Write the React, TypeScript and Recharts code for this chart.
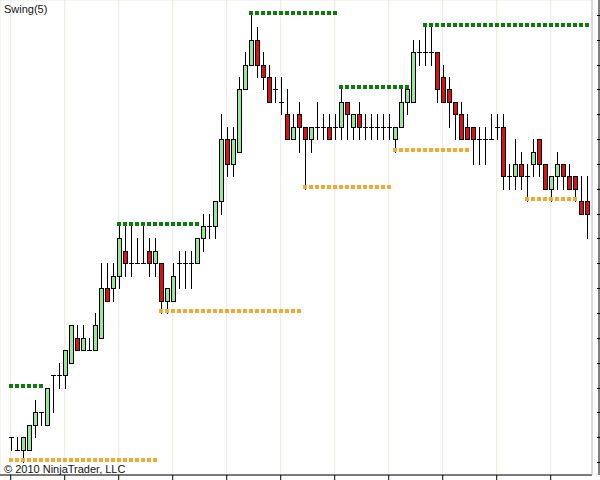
import React from 'react';
import { ComposedChart, Bar, Line, XAxis, YAxis, CartesianGrid } from 'recharts';

const n = null;

// OHLC prices (one bar per slot)
const opens = [
  1101, 1100.5, 1100.5, 1100.5, 1101.5, 1102, 1101.5, 1103.5, 1103.5, 1103.5,
  1104, 1105, 1104.5, 1104.5, 1104.5, 1105, 1107, 1107, 1107.5, 1108.5,
  1108, 1108, 1108, 1108.5, 1108, 1108, 1106.5, 1106.5, 1108, 1108,
  1108, 1108, 1109, 1109.5, 1109.5, 1110.5, 1113, 1112, 1112.5, 1115,
  1116, 1117, 1116, 1115.5, 1115, 1114.5, 1114, 1113, 1114, 1113.5,
  1113, 1113.5, 1113.5, 1113.5, 1113.5, 1113.5, 1114.5, 1113.5, 1114, 1113.5,
  1113.5, 1113.5, 1113.5, 1113.5, 1113, 1113.5, 1114.5, 1114.5, 1116.5, 1116.5,
  1116.5, 1116.5, 1115.5, 1115, 1114.5, 1114, 1113.5, 1113.5, 1113, 1113,
  1113, 1113.5, 1113.5, 1111.5, 1111.5, 1112, 1111.5, 1112, 1113, 1112,
  1111, 1111.5, 1112, 1111.5, 1111.5, 1110.5, 1110.5,
];
const highs = [
  1101, 1101, 1101, 1101.5, 1102.5, 1102, 1103, 1103.5, 1104, 1104.5,
  1105.5, 1105.5, 1105.5, 1105, 1106, 1108, 1108, 1108, 1109.5, 1109.5,
  1109.5, 1109, 1109.5, 1109, 1109, 1108, 1107, 1108, 1108.5, 1108.5,
  1108.5, 1109, 1110, 1110, 1110.5, 1114, 1113.5, 1113.5, 1115.5, 1116.5,
  1118, 1117.5, 1116.5, 1116, 1115.5, 1115.5, 1115, 1114, 1114.5, 1113.5,
  1113.5, 1114.5, 1114, 1114, 1114, 1115, 1114.5, 1114, 1114.5, 1114,
  1114, 1114, 1114, 1114, 1113.5, 1115, 1115, 1117, 1117, 1117.5,
  1117.5, 1116.5, 1116, 1115.5, 1114.5, 1114.5, 1114, 1113.5, 1113.5, 1113.5,
  1114, 1114, 1114, 1112, 1113, 1112.5, 1112, 1113, 1113, 1112,
  1111.5, 1112.5, 1112, 1112, 1111.5, 1111.5, 1111.5,
];
const lows = [
  1100.5, 1100.5, 1100, 1100.5, 1101, 1101.5, 1101.5, 1102, 1103, 1103,
  1104, 1104.5, 1104.5, 1104.5, 1104.5, 1105, 1106.5, 1106.5, 1107, 1107.5,
  1107.5, 1108, 1108, 1107.5, 1107.5, 1106, 1106, 1106.5, 1107, 1107,
  1107, 1108, 1108.5, 1109, 1109, 1110, 1111.5, 1111.5, 1112.5, 1115,
  1116, 1115.5, 1115, 1114.5, 1114.5, 1114, 1113, 1113, 1112.5, 1111,
  1112.5, 1113, 1113, 1113, 1113, 1113, 1113, 1113, 1113, 1113,
  1113, 1113, 1113, 1113, 1112.5, 1113.5, 1114, 1114.5, 1116, 1116,
  1116, 1114.5, 1114.5, 1113.5, 1113, 1113, 1113, 1112, 1112, 1112,
  1113, 1113, 1111, 1111, 1111, 1111, 1110.5, 1111.5, 1111.5, 1111,
  1110.5, 1111, 1111, 1111, 1110.5, 1110, 1109,
];
const closes = [
  1101, 1100.5, 1101, 1101.5, 1102, 1102, 1103, 1103.5, 1103.5, 1104.5,
  1105.5, 1104.5, 1105, 1104.5, 1105.5, 1107, 1106.5, 1107.5, 1109, 1108,
  1108, 1108, 1108, 1108, 1108.5, 1106.5, 1107, 1107.5, 1108, 1108,
  1108, 1109, 1109.5, 1109.5, 1110.5, 1113, 1112, 1113, 1115, 1116,
  1117, 1116, 1115.5, 1114.5, 1115, 1114.5, 1113, 1113.5, 1113.5, 1113,
  1113.5, 1113.5, 1113.5, 1113, 1113.5, 1114.5, 1114, 1114, 1113.5, 1113.5,
  1113.5, 1113.5, 1113.5, 1113.5, 1113.5, 1114.5, 1115, 1116.5, 1116.5, 1116.5,
  1116.5, 1115, 1114.5, 1114.5, 1114, 1113, 1113, 1113, 1113, 1113,
  1113, 1113.5, 1111.5, 1111.5, 1112, 1111.5, 1111.5, 1112.5, 1112, 1111,
  1111.5, 1112, 1111.5, 1111, 1111, 1110, 1110,
];

// Swing(5) indicator plots
const swingHighs = [
  1103, 1103, 1103, 1103, 1103, 1103, n, n, n, n,
  n, n, n, n, n, n, n, n, 1109.5, 1109.5,
  1109.5, 1109.5, 1109.5, 1109.5, 1109.5, 1109.5, 1109.5, 1109.5, 1109.5, 1109.5,
  1109.5, 1109.5, n, n, n, n, n, n, n, n,
  1118, 1118, 1118, 1118, 1118, 1118, 1118, 1118, 1118, 1118,
  1118, 1118, 1118, 1118, 1118, 1115, 1115, 1115, 1115, 1115,
  1115, 1115, 1115, 1115, 1115, 1115, 1115, n, n, 1117.5,
  1117.5, 1117.5, 1117.5, 1117.5, 1117.5, 1117.5, 1117.5, 1117.5, 1117.5, 1117.5,
  1117.5, 1117.5, 1117.5, 1117.5, 1117.5, 1117.5, 1117.5, 1117.5, 1117.5, 1117.5,
  1117.5, 1117.5, 1117.5, 1117.5, 1117.5, 1117.5, 1117.5,
];
const swingLows = [
  1100, 1100, 1100, 1100, 1100, 1100, 1100, 1100, 1100, 1100,
  1100, 1100, 1100, 1100, 1100, 1100, 1100, 1100, 1100, 1100,
  1100, 1100, 1100, 1100, 1100, 1106, 1106, 1106, 1106, 1106,
  1106, 1106, 1106, 1106, 1106, 1106, 1106, 1106, 1106, 1106,
  1106, 1106, 1106, 1106, 1106, 1106, 1106, 1106, 1106, 1111,
  1111, 1111, 1111, 1111, 1111, 1111, 1111, 1111, 1111, 1111,
  1111, 1111, 1111, 1111, 1112.5, 1112.5, 1112.5, 1112.5, 1112.5, 1112.5,
  1112.5, 1112.5, 1112.5, 1112.5, 1112.5, 1112.5, 1112.5, n, n, n,
  n, n, n, n, n, n, 1110.5, 1110.5, 1110.5, 1110.5,
  1110.5, 1110.5, 1110.5, 1110.5, 1110.5, n, n,
];

const gridPrices = [1100, 1103, 1106, 1109, 1112, 1115, 1118];
const axisTickPrices = [
  1100, 1101, 1102, 1103, 1104, 1105, 1106, 1107, 1108, 1109,
  1110, 1111, 1112, 1113, 1114, 1115, 1116, 1117, 1118,
];
const timeTicks = [0, 9, 18, 27, 36, 45, 54, 63, 72, 81, 90];
const indicatorLabel = 'Swing(5)';
const copyrightLabel = '© 2010 NinjaTrader, LLC';

const priceDomain: [number, number] = [1099.477, 1118.603];
const slotDomain: [number, number] = [-1.783, 96.88];

const UP = '#98E698';
const DOWN = '#DD1111';
const HIGH_COLOR = '#0E7A0E';
const LOW_COLOR = '#EEAA33';

const data = opens.map((o, i) => ({
  i,
  open: o,
  high: highs[i],
  low: lows[i],
  close: closes[i],
  range: [lows[i], highs[i]],
  swingHigh: swingHighs[i],
  swingLow: swingLows[i],
}));

const Candle = (props: any) => {
  const { x, y, width, height, payload } = props;
  if (x == null || y == null || !payload) return null;
  const { open, close, high, low } = payload;
  const cx = Math.round(x + width / 2) + 0.5;
  const ratio = high === low ? 0 : height / (high - low);
  const py = (v: number) => Math.round(y + (high - v) * ratio) + 0.5;
  const top = py(high);
  const bot = py(low);
  const bodyTop = py(Math.max(open, close));
  const bodyBot = py(Math.min(open, close));
  return (
    <g>
      <line x1={cx} x2={cx} y1={top - 0.5} y2={bot + 0.5} stroke="#000" strokeWidth={1} />
      {open === close ? (
        <line x1={cx - 2.5} x2={cx + 2.5} y1={bodyTop} y2={bodyTop} stroke="#000" strokeWidth={1} />
      ) : (
        <rect
          x={cx - 2}
          y={bodyTop}
          width={4}
          height={bodyBot - bodyTop}
          fill={close > open ? UP : DOWN}
          stroke="#000"
          strokeWidth={1}
        />
      )}
    </g>
  );
};

const makeDot = (color: string) => (props: any) => {
  const { cx, cy, value, index } = props;
  if (cx == null || cy == null || value == null || Number.isNaN(cy)) {
    return <g key={`e-${index}`} />;
  }
  return (
    <rect
      key={`d-${index}`}
      x={Math.round(cx) - 2}
      y={Math.round(cy) - 4}
      width={4}
      height={4}
      fill={color}
    />
  );
};

const noTick = () => null;

const RightTick = (props: any) => {
  const { x, y } = props;
  const yy = Math.round(y) + 0.5;
  return <line x1={x - 2} x2={x + 1} y1={yy} y2={yy} stroke="#000" strokeWidth={1} />;
};

export default function App() {
  return (
    <div style={{ position: 'absolute', left: 0, top: 0, width: 600, height: 480, background: '#fff' }}>
      <ComposedChart
        width={600}
        height={480}
        data={data}
        margin={{ top: 0, right: 0, bottom: 0, left: 0 }}
      >
        <CartesianGrid stroke="#EBE8DE" strokeWidth={1} />
        <XAxis
          type="number"
          dataKey="i"
          domain={slotDomain}
          allowDataOverflow
          ticks={timeTicks}
          height={5}
          tickSize={5}
          tick={noTick}
          axisLine={{ stroke: '#000' }}
          tickLine={{ stroke: '#000' }}
        />
        <YAxis
          yAxisId={0}
          orientation="right"
          type="number"
          domain={priceDomain}
          allowDataOverflow
          ticks={gridPrices}
          width={7}
          tick={false}
          tickLine={false}
          axisLine={{ stroke: '#C4C4C4' }}
        />
        <YAxis
          yAxisId="marks"
          orientation="right"
          type="number"
          domain={priceDomain}
          allowDataOverflow
          ticks={axisTickPrices}
          width={1}
          tickSize={0}
          tickMargin={0}
          tick={RightTick}
          tickLine={false}
          axisLine={{ stroke: '#000' }}
        />
        <Bar
          yAxisId={0}
          dataKey="range"
          barSize={6}
          shape={Candle}
          isAnimationActive={false}
        />
        <Line
          yAxisId={0}
          dataKey="swingHigh"
          stroke="none"
          strokeWidth={0}
          dot={makeDot(HIGH_COLOR)}
          activeDot={false}
          connectNulls={false}
          isAnimationActive={false}
        />
        <Line
          yAxisId={0}
          dataKey="swingLow"
          stroke="none"
          strokeWidth={0}
          dot={makeDot(LOW_COLOR)}
          activeDot={false}
          connectNulls={false}
          isAnimationActive={false}
        />
      </ComposedChart>
      <div
        style={{
          position: 'absolute',
          left: 4,
          top: 4,
          fontFamily: '"Liberation Sans", Arial, sans-serif',
          fontSize: 11,
          lineHeight: '11px',
          color: '#111',
          whiteSpace: 'nowrap',
        }}
      >
        {indicatorLabel}
      </div>
      <div
        style={{
          position: 'absolute',
          left: 4,
          top: 464,
          fontFamily: '"Liberation Sans", Arial, sans-serif',
          fontSize: 11,
          lineHeight: '11px',
          color: '#111',
          whiteSpace: 'nowrap',
        }}
      >
        {copyrightLabel}
      </div>
    </div>
  );
}
